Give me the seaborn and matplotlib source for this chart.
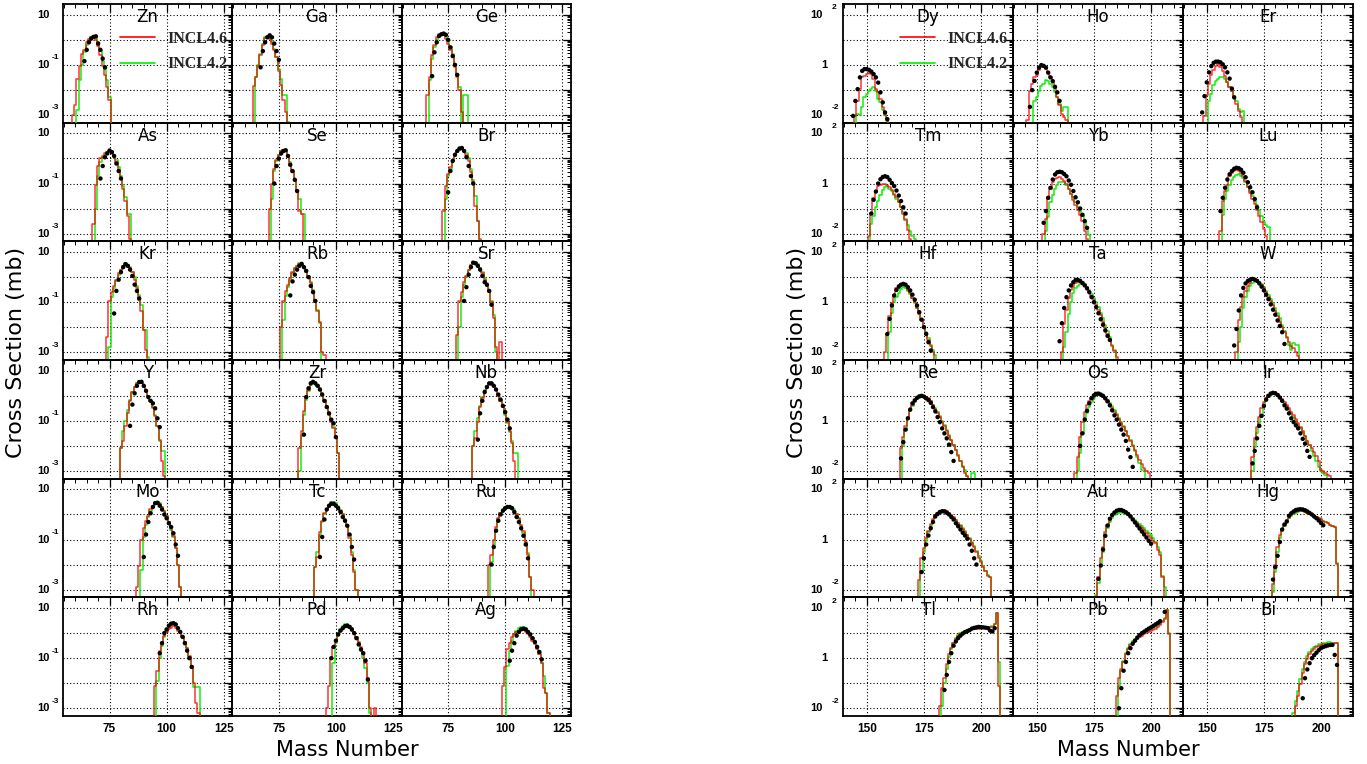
import numpy as np
import matplotlib
matplotlib.use("Agg")
import matplotlib.pyplot as plt
import seaborn as sns
from matplotlib.ticker import FixedLocator, MultipleLocator, LogLocator, NullFormatter
from matplotlib.transforms import blended_transform_factory, offset_copy
from matplotlib.lines import Line2D
from matplotlib.font_manager import FontProperties

# ---------------- labels / categories ----------------
LEFT_ELEMENTS = ["Zn", "Ga", "Ge", "As", "Se", "Br", "Kr", "Rb", "Sr",
                 "Y", "Zr", "Nb", "Mo", "Tc", "Ru", "Rh", "Pd", "Ag"]
RIGHT_ELEMENTS = ["Dy", "Ho", "Er", "Tm", "Yb", "Lu", "Hf", "Ta", "W",
                  "Re", "Os", "Ir", "Pt", "Au", "Hg", "Tl", "Pb", "Bi"]
X_TICKS_LEFT = [75, 100, 125]
X_TICKS_RIGHT = [150, 175, 200]
Y_LABELS_LEFT = [(10, "10", ""), (0.1, "10", "-1"), (0.001, "10", "-3")]
Y_LABELS_RIGHT = [(100, "10", "2"), (1, "1", ""), (0.01, "10", "-2")]
LEGEND_LABELS = ["INCL4.6", "INCL4.2"]
X_TITLE = "Mass Number"
Y_TITLE = "Cross Section (mb)"

# ------------- data: (first mass number, log10(cross section / mb)) -------------
# red = INCL4.6, green = INCL4.2, exp = measured points ; -9 = empty bin
Zn_red = (59, [-3.0, -2.6, -1.55, -1.05, -0.55, -0.4, -0.1, 0.05, 0.1, 0.12, 0.0, -0.25, -0.6, -1.05, -1.4, -1.9, -2.4])
Zn_green = (61, [-2.8, -1.6, -1.0, -0.5, -0.2, 0.0, 0.12, 0.16, 0.1, -0.1, -0.45, -0.85, -1.15, -1.6, -2.3])
Zn_exp = (64, [-0.85, -0.4, -0.1, 0.05, 0.12, 0.14, -0.15, -0.4, -0.75, -1.1])

Ga_red = (64, [-1.85, -1.5, -1.05, -0.6, -0.2, 0.07, 0.1, 0.05, -0.15, -0.4, -0.7, -1.25, -1.8, -2.4, -2.9])
Ga_green = (65, [-1.5, -1.0, -0.55, -0.15, 0.1, 0.15, 0.1, -0.1, -0.35, -0.7, -1.15, -1.55, -2.2, -2.2, -3.3])
Ga_exp = (67, [-1.1, -0.45, -0.1, 0.1, 0.18, 0.1, -0.15, -0.45, -0.8])

Ge_red = (66, [-2.2, -1.5, -0.6, -0.2, 0.1, 0.22, 0.25, 0.2, 0.05, -0.15, -0.4, -0.7, -1.1, -1.5, -2.0, -2.9])
Ge_green = (67, [-1.6, -0.75, -0.3, 0.0, 0.15, 0.25, 0.28, 0.2, 0.0, -0.3, -0.55, -0.95, -1.4, -1.9, -9, -2.2, -2.2])
Ge_exp = (68, [-1.45, -0.5, -0.1, 0.15, 0.22, 0.25, 0.2, 0.0, -0.3, -0.65, -1.0, -1.4])

As_red = (68, [-2.6, -1.05, -0.3, 0.0, 0.1, 0.2, 0.25, 0.28, 0.25, 0.1, -0.15, -0.45, -0.8, -1.2, -1.7, -2.3, -3.2])
As_green = (69, [-2.0, -0.7, -0.15, 0.05, 0.15, 0.25, 0.3, 0.28, 0.15, -0.05, -0.35, -0.7, -1.1, -1.55, -2.2, -2.2])
As_exp = (71, [-0.8, -0.3, 0.05, 0.2, 0.32, 0.25, 0.1, -0.2, -0.5, -0.8])

Se_red = (71, [-2.0, -1.0, -0.4, -0.05, 0.15, 0.3, 0.33, 0.3, 0.05, -0.25, -0.55, -0.9, -1.3, -2.1, -2.2, -3.3])
Se_green = (72, [-1.6, -0.5, -0.1, 0.15, 0.28, 0.35, 0.3, 0.15, -0.15, -0.5, -0.85, -1.25, -1.6, -2.2, -2.2])
Se_exp = (73, [-1.0, -0.3, 0.0, 0.2, 0.3, 0.33, 0.1, -0.25, -0.5, -0.85, -1.3])

Br_red = (73, [-2.1, -1.1, -0.6, -0.35, -0.05, 0.15, 0.25, 0.35, 0.4, 0.3, 0.15, -0.1, -0.55, -0.95, -1.9, -2.5, -3.2])
Br_green = (74, [-1.6, -0.7, -0.4, -0.1, 0.1, 0.25, 0.38, 0.42, 0.35, 0.2, 0.0, -0.4, -0.85, -1.5, -2.5, -3.4])
Br_exp = (75, [-1.35, -0.5, -0.1, 0.15, 0.3, 0.4, 0.42, 0.3, 0.05, -0.3, -0.7, -1.0])

Kr_red = (74, [-2.4, -0.95, -0.6, -0.35, -0.1, 0.15, 0.3, 0.45, 0.52, 0.5, 0.35, 0.2, -0.1, -0.45, -0.9, -1.35, -2.1, -2.9])
Kr_green = (75, [-2.8, -0.8, -0.45, -0.15, 0.1, 0.3, 0.45, 0.55, 0.5, 0.4, 0.2, 0.0, -0.35, -0.7, -1.1, -2.1, -2.1, -3.2])
Kr_exp = (77, [-1.45, -0.55, -0.1, 0.2, 0.4, 0.52, 0.45, 0.3, 0.05, -0.3, -0.55, -0.85])

Rb_red = (76, [-2.0, -0.95, -0.55, -0.3, -0.05, 0.2, 0.35, 0.45, 0.52, 0.5, 0.4, 0.2, 0.0, -0.25, -0.55, -0.95, -1.35, -1.8, -3.0, -3.1])
Rb_green = (77, [-1.7, -0.75, -0.4, -0.1, 0.15, 0.35, 0.45, 0.55, 0.52, 0.4, 0.25, 0.05, -0.2, -0.5, -0.9, -1.3, -1.85])
Rb_exp = (80, [-0.73, -0.17, 0.1, 0.3, 0.45, 0.53, 0.4, 0.25, 0.0, -0.35, -0.6, -0.95])

Sr_red = (79, [-2.3, -0.95, -0.6, -0.2, 0.05, 0.3, 0.5, 0.6, 0.58, 0.5, 0.35, 0.15, -0.1, -0.35, -0.6, -1.0, -1.65, -2.8, -9, -2.6])
Sr_green = (80, [-2.0, -0.8, -0.3, 0.0, 0.3, 0.5, 0.6, 0.6, 0.52, 0.38, 0.2, -0.05, -0.3, -0.55, -0.95, -1.5, -3.0])
Sr_exp = (82, [-0.95, -0.4, 0.1, 0.4, 0.58, 0.55, 0.45, 0.3, 0.05, -0.2, -0.3, -0.55, -1.1])

Y_red = (80, [-2.1, -1.8, -1.2, -0.7, -0.2, 0.15, 0.35, 0.5, 0.55, 0.5, 0.35, 0.2, 0.0, -0.2, -0.5, -0.8, -1.2, -1.75, -2.6, -3.2])
Y_green = (80, [-2.1, -1.4, -1.0, -0.55, -0.15, 0.15, 0.35, 0.5, 0.58, 0.52, 0.4, 0.2, 0.0, -0.2, -0.45, -0.75, -1.2, -1.8, -2.2, -2.2])
Y_exp = (84, [-1.2, -0.35, 0.1, 0.4, 0.55, 0.56, 0.4, 0.2, -0.05, -0.2, -0.3, -0.5, -0.9, -1.25])

Zr_red = (84, [-2.1, -1.4, -0.6, -0.05, 0.25, 0.5, 0.55, 0.5, 0.4, 0.25, 0.05, -0.2, -0.45, -0.75, -1.05, -1.3, -1.7, -2.3])
Zr_green = (84, [-3.0, -1.6, -0.75, -0.15, 0.2, 0.45, 0.55, 0.52, 0.42, 0.3, 0.1, -0.15, -0.4, -0.7, -1.0, -1.25, -1.65, -2.3])
Zr_exp = (86, [-1.55, -0.05, 0.3, 0.5, 0.56, 0.5, 0.4, 0.25, 0.05, -0.2, -0.45, -0.7, -0.95, -1.1, -1.65])

Nb_red = (86, [-2.0, -1.7, -1.05, -0.45, -0.1, 0.2, 0.35, 0.48, 0.45, 0.38, 0.25, 0.05, -0.2, -0.45, -0.7, -1.05, -1.4, -1.9, -2.6])
Nb_green = (86, [-2.0, -1.4, -0.9, -0.4, -0.05, 0.25, 0.4, 0.5, 0.5, 0.4, 0.25, 0.05, -0.2, -0.45, -0.75, -1.1, -1.45, -1.8, -2.3, -2.3])
Nb_exp = (88, [-1.75, -0.7, -0.2, 0.15, 0.35, 0.5, 0.5, 0.4, 0.25, 0.05, -0.15, -0.4, -0.65, -0.95, -1.3])

Mo_red = (87, [-2.9, -2.05, -1.0, -0.55, -0.25, -0.05, 0.2, 0.35, 0.45, 0.48, 0.4, 0.3, 0.15, -0.05, -0.3, -0.55, -0.85, -1.35, -2.0, -2.9])
Mo_green = (89, [-2.2, -0.9, -0.4, -0.1, 0.15, 0.35, 0.5, 0.5, 0.45, 0.3, 0.15, -0.05, -0.3, -0.6, -0.9, -1.35, -2.0, -2.9])
Mo_exp = (90, [-1.7, -0.8, -0.3, 0.05, 0.3, 0.45, 0.47, 0.35, 0.2, 0.0, -0.15, -0.35, -0.5, -0.75, -1.2, -1.65])

Tc_red = (91, [-2.1, -1.7, -0.7, -0.25, 0.05, 0.2, 0.3, 0.4, 0.43, 0.38, 0.3, 0.15, 0.0, -0.25, -0.45, -0.95, -1.6, -2.3, -3.0])
Tc_green = (91, [-2.1, -1.5, -0.8, -0.3, 0.0, 0.2, 0.35, 0.48, 0.5, 0.45, 0.32, 0.18, 0.0, -0.2, -0.45, -0.8, -1.5, -2.2, -3.0])
Tc_exp = (93, [-1.7, -0.9, -0.2, 0.2, 0.35, 0.43, 0.43, 0.35, 0.25, 0.1, -0.1, -0.25, -0.45, -0.8, -1.3, -1.8])

Ru_red = (93, [-2.0, -1.6, -1.0, -0.5, -0.15, 0.05, 0.15, 0.25, 0.28, 0.3, 0.25, 0.15, 0.0, -0.15, -0.4, -0.65, -1.1, -1.6, -2.5, -3.0])
Ru_green = (94, [-1.9, -1.2, -0.6, -0.2, 0.05, 0.2, 0.3, 0.35, 0.35, 0.3, 0.2, 0.0, -0.2, -0.45, -0.75, -1.15, -1.55, -2.5])
Ru_exp = (94, [-2.0, -1.3, -0.65, -0.25, 0.0, 0.15, 0.25, 0.3, 0.3, 0.25, 0.1, -0.1, -0.3, -0.55, -0.85, -1.2, -1.75])

Rh_red = (95, [-2.1, -1.5, -0.7, -0.35, -0.1, 0.05, 0.15, 0.22, 0.3, 0.2, 0.1, 0.0, -0.15, -0.35, -0.6, -0.9, -1.3, -2.0, -2.8, -3.2])
Rh_green = (96, [-1.9, -1.0, -0.5, -0.15, 0.1, 0.25, 0.35, 0.4, 0.35, 0.2, 0.05, -0.1, -0.35, -0.6, -0.95, -1.4, -2.15, -2.15, -2.15])
Rh_exp = (97, [-0.8, -0.4, 0.0, 0.15, 0.3, 0.38, 0.4, 0.35, 0.2, 0.05, -0.15, -0.4, -0.7, -1.0, -1.35])

Pd_red = (96, [-3.0, -2.1, -1.05, -0.55, -0.3, -0.05, 0.1, 0.2, 0.25, 0.27, 0.2, 0.1, 0.0, -0.15, -0.35, -0.55, -0.85, -1.2, -1.8, -3.0, -9, -3.0])
Pd_green = (99, [-1.2, -0.4, -0.1, 0.15, 0.3, 0.35, 0.35, 0.3, 0.2, 0.05, -0.15, -0.4, -0.7, -1.0, -1.4, -2.0, -3.2])
Pd_exp = (98, [-1.0, -0.55, -0.3, -0.05, 0.1, 0.2, 0.28, 0.3, 0.25, 0.15, 0.0, -0.2, -0.45, -0.65, -0.8, -1.1, -1.85])

Ag_red = (99, [-2.1, -1.35, -0.65, -0.4, -0.15, -0.05, 0.05, 0.1, 0.15, 0.12, 0.05, -0.05, -0.15, -0.3, -0.45, -0.65, -0.85, -1.2, -2.2, -2.4, -3.2])
Ag_green = (101, [-1.3, -0.7, -0.3, -0.05, 0.1, 0.2, 0.25, 0.25, 0.2, 0.1, 0.0, -0.2, -0.4, -0.6, -0.85, -1.2, -1.7, -2.4, -3.2])
Ag_exp = (102, [-1.1, -0.7, -0.4, -0.1, 0.05, 0.15, 0.18, 0.15, 0.05, -0.05, -0.2, -0.35, -0.55, -0.75, -1.05])

Dy_red = (145, [-2.05, -1.45, -0.97, -0.5, -0.45, -0.37, -0.31, -0.35, -0.55, -0.95, -1.1, -1.37, -1.7, -1.95, -2.17])
Dy_green = (146, [-1.95, -2.0, -1.7, -1.3, -1.15, -1.05, -0.95, -0.9, -1.05, -1.35, -1.5, -1.8, -2.0, -2.25])
Dy_exp = (144, [-2.04, -1.44, -0.97, -0.5, -0.24, -0.17, -0.17, -0.2, -0.27, -0.37, -0.5, -0.71, -1.1, -1.5, -1.9, -2.17])

Ho_red = (146, [-2.2, -1.04, -0.75, -0.5, -0.4, -0.2, -0.08, -0.04, -0.15, -0.3, -0.5, -0.7, -0.85, -1.3, -1.6, -1.95, -2.1, -2.2])
Ho_green = (149, [-1.45, -1.3, -1.05, -0.85, -0.75, -0.62, -0.65, -0.75, -0.9, -1.1, -1.3, -1.55, -1.85, -1.7, -1.7])
Ho_exp = (147, [-1.68, -1.01, -0.64, -0.31, -0.11, -0.01, -0.04, -0.11, -0.31, -0.5, -0.65, -0.88, -1.1, -1.44])

Er_red = (149, [-2.05, -1.2, -0.75, -0.42, -0.2, -0.03, 0.03, -0.1, -0.25, -0.45, -0.7, -0.9, -1.05, -1.3, -1.55, -1.85, -2.1])
Er_green = (151, [-1.45, -1.15, -0.8, -0.65, -0.55, -0.48, -0.5, -0.55, -0.7, -0.9, -1.05, -1.25, -1.45, -1.75, -1.9, -1.84])
Er_exp = (148, [-1.9, -1.25, -0.7, -0.3, -0.05, 0.08, 0.13, 0.13, 0.1, 0.02, -0.1, -0.3, -0.55, -0.95, -1.3])

Tm_red = (151, [-2.1, -1.17, -0.57, -0.3, -0.1, -0.04, -0.02, -0.01, -0.05, -0.15, -0.25, -0.4, -0.55, -0.72, -0.95, -1.2, -1.45, -1.85, -2.2])
Tm_green = (152, [-1.6, -1.3, -0.95, -0.7, -0.45, -0.25, -0.15, -0.1, -0.2, -0.3, -0.45, -0.6, -0.75, -0.95, -1.15, -1.4, -1.65, -1.9, -2.1, -2.2])
Tm_exp = (152, [-1.2, -0.65, -0.32, 0.0, 0.17, 0.26, 0.29, 0.26, 0.15, 0.02, -0.1, -0.28, -0.48, -0.7, -0.95, -1.2])

Yb_red = (153, [-2.0, -1.4, -0.6, -0.2, 0.05, 0.17, 0.22, 0.25, 0.2, 0.1, -0.02, -0.2, -0.42, -0.64, -0.85, -1.05, -1.24, -1.5, -1.9, -2.2])
Yb_green = (154, [-1.9, -1.35, -0.75, -0.45, -0.2, -0.05, 0.05, 0.08, 0.06, -0.05, -0.2, -0.4, -0.55, -0.75, -0.95, -1.1, -1.3, -1.55, -1.8, -2.05])
Yb_exp = (153, [-1.57, -1.1, -0.57, -0.17, 0.16, 0.36, 0.45, 0.47, 0.45, 0.38, 0.29, 0.12, -0.05, -0.3, -0.55, -0.75, -1.0, -1.25, -1.5, -1.77])

Lu_red = (156, [-1.9, -0.7, -0.3, -0.05, 0.3, 0.42, 0.5, 0.56, 0.52, 0.42, 0.3, 0.12, -0.12, -0.37, -0.6, -0.82, -1.05, -1.3, -1.55, -1.8, -2.1])
Lu_green = (157, [-1.25, -0.6, -0.3, -0.05, 0.15, 0.28, 0.35, 0.37, 0.3, 0.22, 0.05, -0.12, -0.3, -0.5, -0.68, -0.85, -1.05, -1.3, -1.55, -1.65, -1.75])
Lu_exp = (156, [-1.1, -0.57, -0.17, 0.16, 0.37, 0.5, 0.59, 0.63, 0.61, 0.55, 0.43, 0.25, 0.05, -0.15, -0.35, -0.62, -0.95])

Hf_red = (158, [-2.0, -1.27, -0.55, -0.05, 0.3, 0.55, 0.67, 0.72, 0.72, 0.65, 0.5, 0.35, 0.18, 0.0, -0.22, -0.47, -0.72, -1.0, -1.25, -1.53, -1.75, -2.0])
Hf_green = (160, [-1.2, -0.45, 0.0, 0.2, 0.38, 0.52, 0.6, 0.56, 0.45, 0.33, 0.15, -0.02, -0.22, -0.45, -0.7, -0.95, -1.2, -1.45, -1.7, -1.93, -2.1])
Hf_exp = (159, [-1.27, -0.67, -0.13, 0.27, 0.49, 0.62, 0.7, 0.73, 0.7, 0.6, 0.47, 0.3, 0.1, -0.13, -0.4, -0.7, -1.0, -1.27, -1.6, -1.93])

Ta_red = (161, [-2.0, -0.87, -0.3, 0.15, 0.47, 0.62, 0.75, 0.82, 0.87, 0.8, 0.7, 0.6, 0.42, 0.25, 0.07, -0.13, -0.33, -0.53, -0.78, -1.03, -1.27, -1.5, -1.75, -1.95, -2.2])
Ta_green = (162, [-1.8, -1.2, -0.47, 0.0, 0.38, 0.55, 0.65, 0.72, 0.76, 0.72, 0.6, 0.47, 0.32, 0.15, 0.0, -0.2, -0.42, -0.65, -0.9, -1.15, -1.4, -1.7, -1.9])
Ta_exp = (160, [-1.56, -0.84, -0.23, 0.2, 0.47, 0.67, 0.8, 0.89, 0.89, 0.85, 0.76, 0.67, 0.55, 0.4, 0.2, 0.0, -0.2, -0.44, -0.68, -0.9, -1.13, -1.35, -1.51])

W_red = (163, [-2.0, -0.73, -0.2, 0.2, 0.45, 0.65, 0.78, 0.87, 0.92, 0.88, 0.82, 0.7, 0.55, 0.4, 0.22, 0.05, -0.12, -0.35, -0.57, -0.8, -1.0, -1.2, -1.4, -1.6, -1.75, -1.85, -2.0, -2.15])
W_green = (164, [-1.6, -1.0, -0.25, 0.2, 0.45, 0.65, 0.78, 0.85, 0.87, 0.82, 0.74, 0.6, 0.45, 0.3, 0.12, -0.05, -0.25, -0.45, -0.65, -0.9, -1.15, -1.45, -1.7, -1.9, -1.65, -1.7, -1.7])
W_exp = (162, [-1.73, -1.07, -0.33, 0.27, 0.57, 0.75, 0.85, 0.9, 0.93, 0.9, 0.85, 0.75, 0.62, 0.47, 0.3, 0.12, -0.09, -0.3, -0.5, -0.73, -0.95, -1.2, -1.67])

Re_red = (165, [-1.1, -0.65, -0.2, 0.15, 0.45, 0.65, 0.8, 0.9, 0.95, 0.98, 1.0, 0.97, 0.9, 0.78, 0.64, 0.48, 0.32, 0.15, -0.03, -0.22, -0.4, -0.6, -0.78, -0.95, -1.15, -1.37, -1.6, -1.84, -2.1, -2.2])
Re_green = (166, [-1.0, -0.35, 0.1, 0.4, 0.6, 0.75, 0.86, 0.93, 0.98, 0.99, 0.95, 0.88, 0.78, 0.63, 0.5, 0.35, 0.18, 0.0, -0.18, -0.38, -0.55, -0.75, -0.95, -1.15, -1.4, -1.6, -1.8, -1.95, -2.2, -9, -2.1, -2.1])
Re_exp = (165, [-1.5, -0.85, -0.35, 0.1, 0.45, 0.7, 0.82, 0.92, 0.98, 1.0, 0.97, 0.9, 0.83, 0.72, 0.55, 0.38, 0.15, -0.05, -0.3, -0.5, -0.7, -0.95, -1.25, -1.6])

Os_red = (167, [-2.1, -1.44, -0.64, -0.05, 0.35, 0.62, 0.8, 0.93, 1.03, 1.07, 1.09, 1.03, 0.97, 0.87, 0.75, 0.63, 0.5, 0.37, 0.23, 0.07, -0.08, -0.25, -0.42, -0.6, -0.8, -1.0, -1.17, -1.35, -1.57, -1.73, -1.9, -2.0, -2.1])
Os_green = (168, [-2.0, -1.3, -0.5, 0.0, 0.3, 0.55, 0.75, 0.9, 0.98, 1.03, 1.04, 1.0, 0.92, 0.82, 0.7, 0.58, 0.43, 0.28, 0.12, -0.05, -0.22, -0.4, -0.6, -0.78, -0.97, -1.2, -1.45, -1.7, -1.97, -1.97])
Os_exp = (169, [-1.0, -0.5, 0.05, 0.4, 0.7, 0.9, 1.02, 1.08, 1.09, 1.05, 1.0, 0.9, 0.78, 0.62, 0.42, 0.22, 0.05, -0.15, -0.35, -0.55, -0.8, -1.15, -1.45, -1.84])

Ir_red = (170, [-1.44, -0.7, -0.25, 0.15, 0.5, 0.75, 0.93, 1.05, 1.12, 1.16, 1.15, 1.08, 0.97, 0.86, 0.75, 0.63, 0.5, 0.37, 0.23, 0.08, -0.08, -0.24, -0.42, -0.6, -0.8, -0.95, -1.1, -1.25, -1.4, -1.6, -1.95, -2.0, -2.1, -2.15, -2.2])
Ir_green = (170, [-2.0, -1.04, -0.5, -0.1, 0.25, 0.55, 0.78, 0.95, 1.05, 1.1, 1.12, 1.05, 0.95, 0.83, 0.7, 0.58, 0.45, 0.3, 0.15, 0.0, -0.15, -0.3, -0.46, -0.62, -0.8, -0.98, -1.2, -1.4, -1.6, -1.85, -2.0, -2.1, -2.15])
Ir_exp = (170, [-1.7, -1.2, -0.7, -0.2, 0.2, 0.6, 0.85, 1.0, 1.09, 1.12, 1.1, 1.03, 0.93, 0.8, 0.62, 0.49, 0.3, 0.1, -0.05, -0.18, -0.3, -0.5, -0.72, -0.91, -1.2, -1.44])

Pt_red = (173, [-1.6, -0.75, -0.35, 0.05, 0.35, 0.62, 0.82, 0.96, 1.05, 1.12, 1.15, 1.16, 1.12, 1.06, 0.98, 0.88, 0.78, 0.67, 0.55, 0.44, 0.3, 0.17, 0.03, -0.12, -0.3, -0.5, -0.72, -0.9, -1.1, -1.25, -1.44, -1.5])
Pt_green = (174, [-1.3, -0.5, -0.05, 0.3, 0.55, 0.75, 0.9, 1.0, 1.07, 1.12, 1.13, 1.1, 1.04, 0.96, 0.87, 0.78, 0.68, 0.57, 0.45, 0.33, 0.2, 0.05, -0.1, -0.25, -0.45, -0.65, -0.85, -1.05, -1.25, -1.4, -1.5])
Pt_exp = (174, [-1.3, -0.75, -0.2, 0.16, 0.45, 0.7, 0.92, 1.02, 1.1, 1.13, 1.12, 1.07, 1.0, 0.9, 0.8, 0.65, 0.53, 0.4, 0.27, 0.16, 0.03, -0.2, -0.45, -0.75, -1.0])

Au_red = (177, [-1.5, -0.75, -0.3, 0.3, 0.6, 0.85, 0.98, 1.07, 1.12, 1.16, 1.15, 1.11, 1.05, 0.99, 0.92, 0.83, 0.74, 0.65, 0.56, 0.47, 0.37, 0.27, 0.15, 0.05, -0.05, -0.15, -0.4, -0.6, -1.5])
Au_green = (176, [-2.2, -1.75, -1.0, -0.5, 0.1, 0.45, 0.7, 0.85, 0.97, 1.03, 1.07, 1.09, 1.07, 1.03, 0.98, 0.92, 0.86, 0.79, 0.71, 0.63, 0.54, 0.45, 0.36, 0.27, 0.18, 0.08, -0.1, -0.3, -0.5, -1.45, -1.9])
Au_exp = (177, [-1.57, -1.04, -0.4, 0.15, 0.56, 0.83, 0.98, 1.08, 1.15, 1.18, 1.18, 1.14, 1.09, 1.02, 0.92, 0.8, 0.68, 0.56, 0.44, 0.32, 0.2, 0.08, -0.05, -0.17])

Hg_red = (179, [-1.77, -1.0, -0.3, 0.2, 0.42, 0.6, 0.76, 0.87, 0.97, 1.05, 1.1, 1.14, 1.16, 1.14, 1.11, 1.07, 1.02, 0.97, 0.92, 0.88, 0.84, 0.8, 0.75, 0.7, 0.65, 0.6, 0.55, 0.49, -0.97])
Hg_green = (179, [-2.1, -1.3, -0.5, 0.05, 0.35, 0.55, 0.72, 0.85, 0.95, 1.02, 1.07, 1.1, 1.12, 1.12, 1.1, 1.06, 1.02, 0.97, 0.92, 0.88, 0.84, 0.8, 0.75, 0.7, 0.65, 0.6, 0.55, 0.5, -0.95])
Hg_exp = (179, [-1.6, -1.1, -0.65, -0.1, 0.4, 0.6, 0.72, 0.95, 1.05, 1.12, 1.18, 1.2, 1.21, 1.2, 1.17, 1.12, 1.06, 1.0, 0.92, 0.85, 0.76, 0.66, 0.57])

Tl_red = (182, [-1.9, -1.2, -0.8, -0.25, 0.15, 0.4, 0.6, 0.75, 0.88, 0.96, 1.02, 1.07, 1.1, 1.13, 1.15, 1.16, 1.17, 1.18, 1.19, 1.2, 1.2, 1.22, 1.23, 1.25, 1.35, 1.82, -1.13])
Tl_green = (183, [-1.9, -1.0, -0.45, 0.05, 0.38, 0.62, 0.8, 0.92, 1.0, 1.06, 1.1, 1.13, 1.16, 1.18, 1.19, 1.2, 1.21, 1.22, 1.22, 1.23, 1.24, 1.25, 1.27, 1.35, 1.82, -0.15])
Tl_exp = (184, [-1.27, -0.67, -0.15, 0.2, 0.5, 0.67, 0.8, 0.9, 0.98, 1.04, 1.08, 1.12, 1.18, 1.21, 1.23, 1.25, 1.24, 1.23, 1.22, 1.2, 1.1, 1.07, 1.2])

Pb_red = (185, [-1.5, -0.8, -0.45, -0.15, 0.15, 0.38, 0.52, 0.62, 0.7, 0.77, 0.83, 0.9, 0.96, 1.0, 1.04, 1.08, 1.12, 1.17, 1.23, 1.32, 1.45, 1.58, 1.92, 0.95])
Pb_green = (186, [-1.1, -0.5, -0.1, 0.2, 0.42, 0.57, 0.68, 0.77, 0.85, 0.92, 0.98, 1.03, 1.08, 1.12, 1.17, 1.21, 1.26, 1.31, 1.38, 1.48, 1.6, 1.92, 1.0])
Pb_exp = (186, [-2.0, -1.2, -0.5, -0.15, 0.2, 0.4, 0.58, 0.7, 0.82, 0.92, 1.0, 1.06, 1.12, 1.18, 1.23, 1.29, 1.35, 1.41, 1.48, None, 1.85])

Bi_red = (189, [-1.9, -1.5, -1.05, -0.6, -0.25, -0.02, 0.15, 0.28, 0.38, 0.45, 0.5, 0.53, 0.55, 0.56, 0.57, 0.57, 0.58, 0.6, 0.6])
Bi_green = (188, [-2.2, -1.7, -1.3, -0.85, -0.45, -0.15, 0.08, 0.25, 0.38, 0.45, 0.5, 0.55, 0.58, 0.6, 0.62, 0.63, 0.63, 0.62, 0.62, 0.6])
Bi_exp = (192, [-1.6, -0.8, -0.45, -0.2, 0.0, 0.12, 0.22, 0.32, 0.4, 0.45, 0.48, 0.51, 0.53, 0.53, 0.13, -0.27])

SERIES = {
    "Zn": (Zn_red, Zn_green, Zn_exp), "Ga": (Ga_red, Ga_green, Ga_exp), "Ge": (Ge_red, Ge_green, Ge_exp),
    "As": (As_red, As_green, As_exp), "Se": (Se_red, Se_green, Se_exp), "Br": (Br_red, Br_green, Br_exp),
    "Kr": (Kr_red, Kr_green, Kr_exp), "Rb": (Rb_red, Rb_green, Rb_exp), "Sr": (Sr_red, Sr_green, Sr_exp),
    "Y": (Y_red, Y_green, Y_exp), "Zr": (Zr_red, Zr_green, Zr_exp), "Nb": (Nb_red, Nb_green, Nb_exp),
    "Mo": (Mo_red, Mo_green, Mo_exp), "Tc": (Tc_red, Tc_green, Tc_exp), "Ru": (Ru_red, Ru_green, Ru_exp),
    "Rh": (Rh_red, Rh_green, Rh_exp), "Pd": (Pd_red, Pd_green, Pd_exp), "Ag": (Ag_red, Ag_green, Ag_exp),
    "Dy": (Dy_red, Dy_green, Dy_exp), "Ho": (Ho_red, Ho_green, Ho_exp), "Er": (Er_red, Er_green, Er_exp),
    "Tm": (Tm_red, Tm_green, Tm_exp), "Yb": (Yb_red, Yb_green, Yb_exp), "Lu": (Lu_red, Lu_green, Lu_exp),
    "Hf": (Hf_red, Hf_green, Hf_exp), "Ta": (Ta_red, Ta_green, Ta_exp), "W": (W_red, W_green, W_exp),
    "Re": (Re_red, Re_green, Re_exp), "Os": (Os_red, Os_green, Os_exp), "Ir": (Ir_red, Ir_green, Ir_exp),
    "Pt": (Pt_red, Pt_green, Pt_exp), "Au": (Au_red, Au_green, Au_exp), "Hg": (Hg_red, Hg_green, Hg_exp),
    "Tl": (Tl_red, Tl_green, Tl_exp), "Pb": (Pb_red, Pb_green, Pb_exp), "Bi": (Bi_red, Bi_green, Bi_exp),
}

# ---------------- style ----------------
sns.set_theme(style="white")
plt.rcParams["font.family"] = ["DejaVu Sans"]
plt.rcParams["axes.linewidth"] = 1.2

RED = "#ff0000"
GREEN = "#00ee00"
W_PX, H_PX = 1367, 764
ROW_H = 712.0 / 6.0
TOP_PX = 4.0

fig = plt.figure(figsize=(W_PX / 100, H_PX / 100), dpi=100)
fig.patch.set_facecolor("white")

tick_fp = FontProperties(family="Liberation Sans", weight="bold", size=8)
exp_fp = FontProperties(family="Liberation Sans", weight="bold", size=6)
leg_fp = FontProperties(family="Liberation Serif", weight="bold", size=11.5)


def draw_step(ax, series, color, lw, alpha, z):
    start, logs = series
    a = np.arange(start - 1, start + len(logs) + 1)
    v = np.array([-12.0] + [float(x) for x in logs] + [-12.0])
    sns.lineplot(x=a, y=10.0 ** v, ax=ax, color=color, lw=lw, alpha=alpha,
                 drawstyle="steps-mid", estimator=None, sort=False,
                 legend=False, zorder=z)


def draw_exp(ax, series):
    start, logs = series
    a = [start + i for i, x in enumerate(logs) if x is not None]
    v = [10.0 ** x for x in logs if x is not None]
    sns.scatterplot(x=a, y=v, ax=ax, color="black", s=10, edgecolor="none",
                    legend=False, zorder=6)


def build_grid(elements, x0_px, col_w, xlim, ylim, xticks, ylabels, base_off, one_off):
    for idx, name in enumerate(elements):
        r, c = divmod(idx, 3)
        left = (x0_px + c * col_w) / W_PX
        bottom = (H_PX - (TOP_PX + (r + 1) * ROW_H)) / H_PX
        ax = fig.add_axes([left, bottom, col_w / W_PX, ROW_H / H_PX])
        ax.set_facecolor("none")
        ax.set_yscale("log")
        red, green, exp = SERIES[name]
        draw_step(ax, green, GREEN, 1.1, 0.95, 3)
        draw_step(ax, red, RED, 1.1, 0.8, 4)
        draw_exp(ax, exp)
        ax.set_xlim(*xlim)
        ax.set_ylim(*ylim)
        ax.set_xlabel("")
        ax.set_ylabel("")
        lo, hi = np.log10(ylim[0]), np.log10(ylim[1])
        decades = [10.0 ** k for k in range(int(np.ceil(lo)), int(np.floor(hi)) + 1)]
        ax.yaxis.set_major_locator(FixedLocator(decades))
        ax.yaxis.set_minor_locator(LogLocator(base=10, subs=np.arange(2, 10), numticks=30))
        ax.yaxis.set_minor_formatter(NullFormatter())
        ax.set_xticks(xticks)
        ax.xaxis.set_minor_locator(MultipleLocator(5))
        ax.grid(True, which="major", axis="both", color="black", ls=(0, (1, 2)), lw=0.8)
        ax.tick_params(which="both", direction="in", top=True, right=True,
                       labelleft=False, labelbottom=False, colors="black")
        ax.tick_params(which="major", length=6, width=0.9)
        ax.tick_params(which="minor", length=3, width=0.7)
        for sp in ax.spines.values():
            sp.set_color("black")
            sp.set_linewidth(1.3)
        ax.text(0.5, 1 - 4.0 / ROW_H, name, transform=ax.transAxes, ha="center",
                va="top", fontsize=12, family="DejaVu Sans", color="black", zorder=10)
        if r == 5:
            ax.tick_params(axis="x", which="major", labelbottom=True, pad=5)
            ax.set_xticks(xticks, labels=[str(t) for t in xticks])
            for lab in ax.get_xticklabels():
                lab.set_fontproperties(FontProperties(family="Liberation Sans", weight="bold", size=8.5))
        if c == 0:
            trans = blended_transform_factory(ax.transAxes, ax.transData)
            for val, base, ex in ylabels:
                off = base_off if ex else (one_off if base == "1" else 13)
                tb = offset_copy(trans, fig=fig, x=-off, y=0, units="dots")
                ax.text(0, val, base, transform=tb, ha="right", va="center",
                        fontproperties=tick_fp, color="black", clip_on=False)
                if ex:
                    te = offset_copy(trans, fig=fig, x=-11, y=7, units="dots")
                    ax.text(0, val, ex, transform=te, ha="left", va="center",
                            fontproperties=exp_fp, color="black", clip_on=False)
        if idx == 0:
            ax.set_zorder(5)
            handles = [Line2D([], [], color=RED, lw=1.2), Line2D([], [], color=GREEN, lw=1.2)]
            leg = ax.legend(handles, LEGEND_LABELS, loc="center left", bbox_to_anchor=(0.337, 0.60),
                            frameon=False, prop=leg_fp, handlelength=2.2, handletextpad=0.75,
                            labelspacing=0.6, borderpad=0, borderaxespad=0)
            leg.set_zorder(20)


build_grid(LEFT_ELEMENTS, 63.0, 169.3, (54.6, 128.8), (4.9e-4, 27.0),
           X_TICKS_LEFT, Y_LABELS_LEFT, 13, 16)
build_grid(RIGHT_ELEMENTS, 843.0, 170.0, (139.6, 214.0), (4.9e-3, 270.0),
           X_TICKS_RIGHT, Y_LABELS_RIGHT, 20, 16)

# axis titles
fig.text(347 / W_PX, 1 - 750 / H_PX, X_TITLE, ha="center", va="center", fontsize=15, color="black")
fig.text(1128 / W_PX, 1 - 750 / H_PX, X_TITLE, ha="center", va="center", fontsize=15, color="black")
fig.text(16 / W_PX, 1 - 352 / H_PX, Y_TITLE, ha="center", va="center", rotation=90, fontsize=16, color="black")
fig.text(797 / W_PX, 1 - 352 / H_PX, Y_TITLE, ha="center", va="center", rotation=90, fontsize=16, color="black")

fig.savefig("out.png", dpi=100, facecolor="white")
